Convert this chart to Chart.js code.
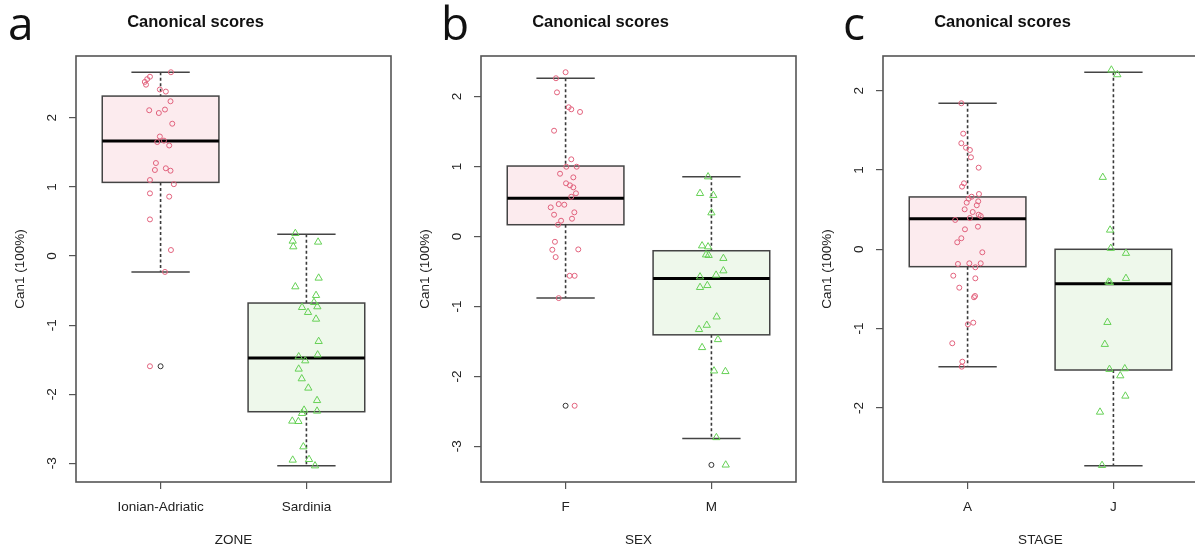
<!DOCTYPE html>
<html>
<head>
<meta charset="utf-8">
<script src="https://cdn.jsdelivr.net/npm/chart.js@4.4.1/dist/chart.umd.min.js"></script>
<style>
  html, body { margin: 0; padding: 0; background: #fff; }
  body { width: 1195px; height: 548px; position: relative; overflow: hidden; }
  .panel { position: absolute; top: 0; width: 467px; height: 548px; }
  .letter { position: absolute; top: -1px; font-family: 'Open Sans', sans-serif; font-size: 46px; line-height: 46px; color: #111; }
</style>
</head>
<body>
<div class="panel" style="left:0px"><canvas id="chartA" width="467" height="548"></canvas></div>
<div class="panel" style="left:405px"><canvas id="chartB" width="467" height="548"></canvas></div>
<div class="panel" style="left:807px"><canvas id="chartC" width="467" height="548"></canvas></div>
<div class="letter" style="left:8px">a</div>
<div class="letter" style="left:441px">b</div>
<div class="letter" style="left:843px">c</div>
<script>
// --- panel a: ZONE ---
const zoneCats = ['Ionian-Adriatic', 'Sardinia'];
const zoneTicks = [-3, -2, -1, 0, 1, 2];
const zoneRange = [-3.27, 2.895];
// [lower whisker, Q1, median, Q3, upper whisker]
const zoneStats = [[-0.232, 1.066, 1.664, 2.315, 2.66], [-3.035, -2.253, -1.476, -0.68, 0.314]];
const zoneOutliers = [[-1.595], []];
// [jitter, value]
const zoneIonian = [[0.071, 2.66], [-0.073, 2.595], [-0.092, 2.56], [-0.108, 2.52], [-0.100, 2.48], [-0.005, 2.41],
  [0.036, 2.38], [0.068, 2.24], [-0.078, 2.11], [-0.012, 2.07], [0.030, 2.12], [0.080, 1.915], [-0.005, 1.73],
  [-0.023, 1.65], [0.023, 1.67], [0.059, 1.60], [-0.032, 1.346], [-0.039, 1.245], [0.036, 1.27], [0.068, 1.235],
  [-0.073, 1.10], [0.091, 1.04], [-0.073, 0.907], [0.059, 0.86], [-0.073, 0.53], [0.071, 0.087], [0.030, -0.23],
  [-0.073, -1.595]];
const zoneSardinia = [[-0.076, 0.328], [-0.094, 0.217], [-0.090, 0.135], [0.080, 0.203], [0.084, -0.318],
  [-0.076, -0.444], [0.066, -0.569], [0.052, -0.67], [-0.030, -0.743], [0.075, -0.733], [0.011, -0.815],
  [0.066, -0.912], [0.084, -1.235], [0.077, -1.43], [-0.053, -1.457], [-0.008, -1.515], [-0.053, -1.635],
  [-0.032, -1.775], [0.013, -1.91], [0.073, -2.09], [0.073, -2.243], [-0.016, -2.229], [-0.030, -2.277],
  [-0.097, -2.388], [-0.055, -2.393], [-0.021, -2.76], [-0.094, -2.952], [0.018, -2.943], [0.059, -3.035]];

// --- panel b: SEX ---
const sexCats = ['F', 'M'];
const sexTicks = [-3, -2, -1, 0, 1, 2];
const sexRange = [-3.51, 2.58];
const sexStats = [[-0.881, 0.168, 0.545, 1.007, 2.262], [-2.889, -1.406, -0.60, -0.204, 0.854]];
const sexOutliers = [[-2.42], [-3.266]];
const sexF = [[0.000, 2.348], [-0.066, 2.262], [-0.059, 2.06], [0.021, 1.847], [0.039, 1.818], [0.099, 1.78],
  [-0.079, 1.512], [0.039, 1.103], [0.005, 0.997], [0.076, 0.997], [-0.038, 0.897], [0.053, 0.845], [0.003, 0.76],
  [0.030, 0.731], [0.053, 0.702], [0.071, 0.617], [0.039, 0.568], [-0.047, 0.463], [-0.009, 0.454], [-0.102, 0.416],
  [0.060, 0.345], [-0.079, 0.311], [0.044, 0.254], [-0.031, 0.225], [-0.052, 0.168], [-0.073, -0.076],
  [-0.091, -0.19], [0.087, -0.185], [-0.068, -0.295], [0.028, -0.562], [0.062, -0.562], [-0.047, -0.881],
  [0.062, -2.42]];
const sexM = [[-0.023, 0.854], [-0.078, 0.616], [0.013, 0.588], [0.000, 0.339], [-0.064, -0.133], [-0.023, -0.147],
  [-0.037, -0.262], [-0.019, -0.27], [0.082, -0.313], [0.082, -0.49], [0.032, -0.552], [-0.078, -0.577],
  [-0.028, -0.70], [-0.078, -0.728], [0.036, -1.149], [-0.032, -1.268], [-0.085, -1.329], [0.045, -1.473],
  [-0.064, -1.587], [0.018, -1.921], [0.096, -1.93], [0.034, -2.874], [0.098, -3.266]];

// --- panel c: STAGE ---
const stageCats = ['A', 'J'];
const stageTicks = [-2, -1, 0, 1, 2];
const stageRange = [-2.934, 2.437];
const stageStats = [[-1.48, -0.219, 0.386, 0.66, 1.841], [-2.729, -1.522, -0.433, 0.0, 2.232]];
const stageOutliers = [[], []];
const stageA = [[-0.043, 1.841], [-0.030, 1.458], [-0.043, 1.337], [-0.011, 1.281], [0.016, 1.252], [0.023, 1.16],
  [0.076, 1.029], [-0.025, 0.832], [-0.038, 0.79], [0.078, 0.697], [0.028, 0.663], [0.007, 0.638], [0.073, 0.605],
  [-0.006, 0.588], [0.063, 0.555], [-0.020, 0.504], [0.035, 0.47], [0.076, 0.436], [0.090, 0.42], [0.016, 0.395],
  [-0.085, 0.37], [0.071, 0.285], [-0.018, 0.252], [-0.043, 0.139], [-0.071, 0.088], [0.101, -0.038],
  [-0.066, -0.185], [0.012, -0.177], [0.090, -0.177], [0.053, -0.227], [-0.098, -0.333], [0.053, -0.366],
  [-0.057, -0.484], [0.044, -0.605], [0.051, -0.589], [0.002, -0.946], [0.039, -0.925], [-0.105, -1.185],
  [-0.036, -1.417], [-0.040, -1.48]];
const stageJ = [[-0.014, 2.261], [0.027, 2.202], [-0.073, 0.908], [-0.023, 0.243], [-0.018, 0.013], [0.086, -0.05],
  [-0.034, -0.412], [-0.024, -0.418], [0.086, -0.366], [-0.041, -0.921], [-0.059, -1.198], [-0.027, -1.513],
  [0.078, -1.505], [0.047, -1.594], [0.082, -1.85], [-0.092, -2.052], [-0.078, -2.724]];

Chart.defaults.font.family = "'Liberation Sans', Arial, sans-serif";
Chart.defaults.color = '#222';

const PINK = '#E2627D';
const GREEN = '#66D156';
const FILLS = ['#FCEBEE', '#EEF8EB'];
const axisFont = { size: 13.5 };

// boxes, whiskers and frame drawn through the chart's scales
function boxPlugin(stats) {
  return {
    id: 'boxplot',
    beforeDatasetsDraw(chart) {
      const { ctx, scales: { x, y } } = chart;
      const line = (x1, y1, x2, y2) => { ctx.beginPath(); ctx.moveTo(x1, y1); ctx.lineTo(x2, y2); ctx.stroke(); };
      stats.forEach((s, i) => {
        const c = i + 1;
        const [lo, q1, med, q3, hi] = s.map(v => y.getPixelForValue(v));
        const xc = x.getPixelForValue(c);
        const bl = x.getPixelForValue(c - 0.4), br = x.getPixelForValue(c + 0.4);
        const sl = x.getPixelForValue(c - 0.2), sr = x.getPixelForValue(c + 0.2);
        ctx.save();
        ctx.strokeStyle = '#3a3a3a';
        ctx.lineWidth = 1.6;
        ctx.setLineDash([3, 2.5]);
        line(xc, hi, xc, q3);
        line(xc, q1, xc, lo);
        ctx.setLineDash([]);
        ctx.strokeStyle = '#444';
        ctx.lineWidth = 1.5;
        line(sl, hi, sr, hi);
        line(sl, lo, sr, lo);
        ctx.fillStyle = FILLS[i];
        ctx.fillRect(bl, q3, br - bl, q1 - q3);
        ctx.strokeRect(bl, q3, br - bl, q1 - q3);
        ctx.strokeStyle = '#000';
        ctx.lineWidth = 3;
        line(bl, med, br, med);
        ctx.restore();
      });
    },
    afterDatasetsDraw(chart) {
      const { ctx, chartArea: a } = chart;
      ctx.save();
      ctx.strokeStyle = '#555';
      ctx.lineWidth = 1.6;
      ctx.strokeRect(a.left, a.top, a.right - a.left, a.bottom - a.top);
      ctx.restore();
    }
  };
}

function makePanel(id, cats, xTitle, yRange, yTicks, stats, outliers, groupA, groupB) {
  const pts = (arr, c) => arr.map(p => ({ x: c + p[0], y: p[1] }));
  const outPts = [];
  outliers.forEach((o, i) => o.forEach(v => outPts.push({ x: i + 1, y: v })));
  const mark = { pointBackgroundColor: 'rgba(0,0,0,0)', pointBorderWidth: 1, showLine: false };

  new Chart(document.getElementById(id), {
    type: 'scatter',
    data: {
      datasets: [
        { ...mark, data: pts(groupB, 2), pointStyle: 'triangle', pointRadius: 4.2, pointBorderColor: GREEN },
        { ...mark, data: pts(groupA, 1), pointStyle: 'circle', pointRadius: 2.5, pointBorderColor: PINK },
        { ...mark, data: outPts, pointStyle: 'circle', pointRadius: 2.5, pointBorderColor: '#333' }
      ]
    },
    options: {
      responsive: false,
      animation: false,
      events: [],
      layout: { padding: { left: 0, right: 76, top: 0, bottom: 0 } },
      plugins: {
        legend: { display: false },
        tooltip: { enabled: false },
        title: {
          display: true, text: 'Canonical scores', color: '#111',
          font: { size: 16.5, weight: 'bold' }, padding: { top: 13, bottom: 23.2 }
        }
      },
      scales: {
        x: {
          type: 'linear', min: 0.42, max: 2.58,
          afterBuildTicks: s => { s.ticks = [1, 2].map(v => ({ value: v })); },
          afterFit: s => { s.height = 66; },
          ticks: { callback: v => cats[v - 1], padding: 10, font: axisFont, color: '#222', maxRotation: 0, autoSkip: false },
          grid: { drawOnChartArea: false, drawTicks: true, tickLength: 7, color: '#555', lineWidth: 1.2 },
          border: { display: false },
          title: { display: true, text: xTitle, font: axisFont, color: '#222', padding: { top: 0, bottom: 0 } }
        },
        y: {
          type: 'linear', min: yRange[0], max: yRange[1],
          afterBuildTicks: s => { s.ticks = yTicks.map(v => ({ value: v })); },
          afterFit: s => { s.width = 76; },
          ticks: { callback: v => String(v), minRotation: 90, maxRotation: 90, crossAlign: 'center', padding: 11, font: axisFont, color: '#222' },
          grid: { drawOnChartArea: false, drawTicks: true, tickLength: 7, color: '#555', lineWidth: 1.2 },
          border: { display: false },
          title: { display: true, text: 'Can1 (100%)', font: axisFont, color: '#222', padding: { top: 12, bottom: 0 } }
        }
      }
    },
    plugins: [boxPlugin(stats)]
  });
}

makePanel('chartA', zoneCats, 'ZONE', zoneRange, zoneTicks, zoneStats, zoneOutliers, zoneIonian, zoneSardinia);
makePanel('chartB', sexCats, 'SEX', sexRange, sexTicks, sexStats, sexOutliers, sexF, sexM);
makePanel('chartC', stageCats, 'STAGE', stageRange, stageTicks, stageStats, stageOutliers, stageA, stageJ);
</script>
</body>
</html>
